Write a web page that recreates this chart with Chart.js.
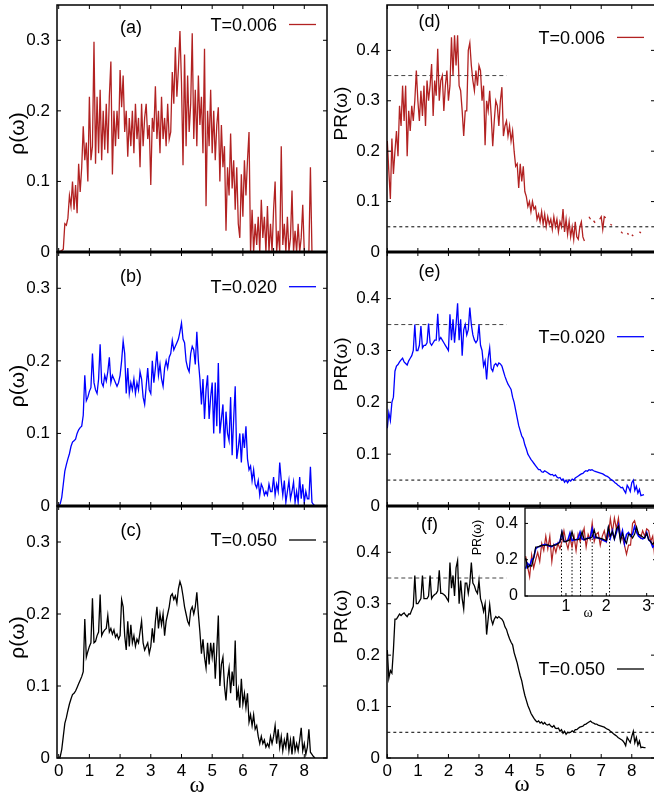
<!DOCTYPE html>
<html><head><meta charset="utf-8">
<script src="https://cdn.jsdelivr.net/npm/chart.js@4"></script>
<style>
html,body{margin:0;padding:0;overflow:hidden;background:#fff;width:654px;height:796px;position:relative;}
canvas{position:absolute;}
</style></head>
<body>
<canvas id="pa"></canvas><canvas id="pb"></canvas><canvas id="pc"></canvas>
<canvas id="pd"></canvas><canvas id="pe"></canvas><canvas id="pf"></canvas>
<canvas id="pin"></canvas>
<script>
// ---------- data ----------
const omega = [
0,0.05,0.1,0.15,0.2,0.25,0.3,0.35,0.4,0.45,
0.5,0.55,0.6,0.65,0.7,0.75,0.8,0.85,0.9,0.95,
1,1.05,1.1,1.15,1.2,1.25,1.3,1.35,1.4,1.45,
1.5,1.55,1.6,1.65,1.7,1.75,1.8,1.85,1.9,1.95,
2,2.05,2.1,2.15,2.2,2.25,2.3,2.35,2.4,2.45,
2.5,2.55,2.6,2.65,2.7,2.75,2.8,2.85,2.9,2.95,
3,3.05,3.1,3.15,3.2,3.25,3.3,3.35,3.4,3.45,
3.5,3.55,3.6,3.65,3.7,3.75,3.8,3.85,3.9,3.95,
4,4.05,4.1,4.15,4.2,4.25,4.3,4.35,4.4,4.45,
4.5,4.55,4.6,4.65,4.7,4.75,4.8,4.85,4.9,4.95,
5,5.05,5.1,5.15,5.2,5.25,5.3,5.35,5.4,5.45,
5.5,5.55,5.6,5.65,5.7,5.75,5.8,5.85,5.9,5.95,
6,6.05,6.1,6.15,6.2,6.25,6.3,6.35,6.4,6.45,
6.5,6.55,6.6,6.65,6.7,6.75,6.8,6.85,6.9,6.95,
7,7.05,7.1,7.15,7.2,7.25,7.3,7.35,7.4,7.45,
7.5,7.55,7.6,7.65,7.7,7.75,7.8,7.85,7.9,7.95,
8,8.05,8.1,8.15,8.2,8.25,8.3,8.35,8.4,8.45];

const rhoT006 = [
0,0.001,0.002,0.004,0.04,0.038,0.048,0.08,0.065,0.1,
0.06,0.095,0.055,0.125,0.085,0.12,0.178,0.13,0.155,0.1,
0.22,0.13,0.15,0.298,0.125,0.22,0.14,0.23,0.13,0.2,
0.145,0.21,0.14,0.22,0.27,0.11,0.2,0.15,0.2,0.16,
0.258,0.205,0.25,0.17,0.2,0.135,0.19,0.15,0.2,0.14,
0.21,0.16,0.19,0.12,0.21,0.15,0.19,0.21,0.16,0.18,
0.095,0.19,0.17,0.235,0.16,0.2,0.14,0.22,0.16,0.19,
0.15,0.21,0.16,0.17,0.255,0.21,0.29,0.22,0.26,0.313,
0.24,0.123,0.28,0.15,0.25,0.17,0.21,0.31,0.16,0.23,
0.15,0.25,0.18,0.22,0.14,0.288,0.065,0.2,0.15,0.23,
0.14,0.2,0.13,0.18,0.205,0.1,0.18,0.12,0.15,0.03,
0.12,0.08,0.168,0.09,0.13,0.06,0.12,0.04,0.02,0.11,
0.05,0.13,0.08,0.13,0.17,0,0.06,0,0.04,0.01,
0.05,0,0.074,0.02,0.05,0,0.065,0,0.04,0,
0.06,0.1,0,0.03,0,0.15,0.01,0.04,0,0.05,
0,0.02,0.087,0,0.03,0,0.04,0,0.02,0.067,
0,0,0,0,0.12,0];

const rhoT020 = [
0,0.003,0.012,0.03,0.048,0.057,0.065,0.072,0.082,0.088,
0.09,0.092,0.1,0.105,0.108,0.11,0.125,0.18,0.145,0.15,
0.158,0.163,0.21,0.17,0.16,0.155,0.175,0.223,0.17,0.165,
0.18,0.172,0.185,0.205,0.17,0.18,0.175,0.17,0.165,0.17,
0.18,0.2,0.227,0.21,0.155,0.19,0.155,0.17,0.16,0.175,
0.155,0.17,0.16,0.185,0.175,0.15,0.14,0.165,0.19,0.16,
0.155,0.2,0.17,0.19,0.213,0.18,0.195,0.175,0.165,0.19,
0.2,0.19,0.205,0.21,0.228,0.215,0.22,0.225,0.23,0.24,
0.252,0.23,0.225,0.2,0.19,0.185,0.21,0.22,0.215,0.195,
0.24,0.2,0.175,0.14,0.175,0.12,0.16,0.18,0.12,0.15,
0.17,0.1,0.17,0.11,0.197,0.1,0.12,0.14,0.08,0.13,
0.1,0.09,0.15,0.07,0.12,0.165,0.065,0.08,0.1,0.06,
0.1,0.08,0.11,0.065,0.05,0.055,0.035,0.05,0.03,0.025,
0.035,0.015,0.03,0.025,0.015,0.02,0.015,0.03,0.02,0.02,
0.04,0.015,0.03,0.02,0.06,0.035,0.015,0.035,0.005,0.02,
0.035,0.01,0.02,0.033,0.005,0.02,0.005,0.04,0.01,0.03,
0.005,0.02,0.01,0.01,0.054,0.005,0.002,0];

const rhoT050 = [
0,0.002,0.012,0.03,0.048,0.056,0.066,0.075,0.082,0.088,
0.09,0.093,0.098,0.103,0.108,0.113,0.12,0.193,0.14,0.148,
0.155,0.16,0.222,0.16,0.162,0.17,0.175,0.227,0.17,0.175,
0.178,0.18,0.198,0.175,0.18,0.172,0.178,0.168,0.172,0.165,
0.17,0.22,0.21,0.17,0.15,0.19,0.155,0.185,0.16,0.17,
0.155,0.165,0.16,0.175,0.19,0.16,0.15,0.155,0.16,0.145,
0.155,0.18,0.16,0.19,0.21,0.18,0.2,0.185,0.2,0.17,
0.19,0.2,0.21,0.225,0.228,0.22,0.225,0.215,0.235,0.245,
0.238,0.225,0.21,0.2,0.19,0.185,0.205,0.21,0.2,0.21,
0.23,0.2,0.175,0.145,0.165,0.14,0.125,0.16,0.13,0.16,
0.14,0.16,0.11,0.15,0.198,0.1,0.13,0.14,0.1,0.08,
0.11,0.125,0.09,0.12,0.1,0.163,0.08,0.095,0.07,0.11,
0.075,0.09,0.07,0.09,0.05,0.06,0.045,0.06,0.04,0.045,
0.03,0.02,0.03,0.02,0.025,0.015,0.02,0.015,0.03,0.02,
0.03,0.045,0.02,0.04,0.015,0.03,0.01,0.025,0.015,0.035,
0.01,0.025,0.005,0.03,0.01,0.02,0.01,0.025,0.042,0.01,
0.02,0.005,0.015,0.04,0.008,0.005,0.002,0];

const prT006 = [
0.22,0.16,0.105,0.225,0.155,0.2,0.24,0.19,0.29,0.25,
0.33,0.26,0.33,0.19,0.28,0.24,0.29,0.26,0.3,0.36,
0.3,0.26,0.32,0.27,0.33,0.25,0.34,0.3,0.33,0.373,
0.27,0.34,0.31,0.403,0.3,0.34,0.35,0.28,0.33,0.36,
0.3,0.33,0.426,0.35,0.43,0.37,0.43,0.33,0.32,0.28,
0.23,0.28,0.28,0.4,0.415,0.37,0.34,0.32,0.36,0.33,
0.37,0.36,0.3,0.33,0.212,0.3,0.28,0.32,0.27,0.21,
0.26,0.3,0.29,0.25,0.3,0.327,0.23,0.25,0.26,0.23,
0.25,0.22,0.24,0.2,0.17,0.175,0.127,0.175,0.14,0.17,
0.12,0.11,0.09,0.1,0.08,0.1,0.085,0.09,0.065,0.075,
0.06,0.08,0.055,0.075,0.05,0.07,0.055,0.065,0.045,0.07,
0.05,0.065,0.04,0.06,0.05,0.085,0.04,0.065,0.035,0.06,
0.03,0.05,0.025,0.06,0.03,0.025,0.05,0.06,0.03,0.022,
null,null,0.07,0.065,null,0.062,0.058,null,null,0.065,
0.07,0.045,0.07,0.068,null,null,0.055,0.053,null,null,
null,null,null,0.04,0.037,null,null,0.037,0.035,null,
0.034,0.032,null,null,null,0.04,0.038];

const prT020 = [
0.15,0.18,0.165,0.2,0.21,0.26,0.27,0.273,0.278,0.282,
0.285,0.278,0.275,0.272,0.28,0.285,0.29,0.3,0.35,0.3,
0.3,0.31,0.347,0.305,0.31,0.31,0.315,0.352,0.315,0.31,
0.315,0.32,0.32,0.371,0.32,0.325,0.32,0.315,0.31,0.305,
0.3,0.37,0.32,0.36,0.315,0.35,0.391,0.32,0.36,0.29,
0.34,0.35,0.33,0.34,0.383,0.35,0.33,0.32,0.315,0.32,
0.35,0.31,0.3,0.27,0.28,0.244,0.285,0.305,0.265,0.26,
0.272,0.275,0.27,0.276,0.274,0.27,0.26,0.25,0.242,0.235,
0.23,0.225,0.21,0.2,0.185,0.17,0.155,0.145,0.135,0.13,
0.118,0.11,0.1,0.095,0.09,0.086,0.082,0.078,0.074,0.07,
0.07,0.066,0.065,0.068,0.066,0.064,0.062,0.06,0.061,0.058,
0.06,0.056,0.054,0.055,0.05,0.052,0.046,0.05,0.045,0.05,
0.048,0.052,0.05,0.054,0.056,0.058,0.06,0.062,0.063,0.066,
0.068,0.067,0.07,0.069,0.07,0.068,0.067,0.066,0.065,0.064,
0.063,0.062,0.06,0.058,0.057,0.055,0.052,0.05,0.048,0.045,
0.043,0.04,0.038,0.035,0.036,0.03,0.025,0.04,0.035,0.028,
0.045,0.05,0.03,0.038,0.025,0.032,0.02,0.021,0.022];

const prT050 = [
0.21,0.155,0.17,0.165,0.21,0.27,0.27,0.275,0.28,0.277,
0.28,0.282,0.278,0.275,0.28,0.28,0.288,0.295,0.355,0.3,
0.3,0.305,0.31,0.355,0.31,0.31,0.31,0.315,0.355,0.31,
0.315,0.318,0.32,0.325,0.365,0.32,0.32,0.318,0.315,0.31,
0.305,0.38,0.33,0.355,0.315,0.37,0.384,0.3,0.345,0.31,
0.29,0.34,0.34,0.32,0.34,0.38,0.34,0.335,0.325,0.32,
0.345,0.31,0.3,0.285,0.3,0.24,0.27,0.298,0.27,0.26,
0.27,0.275,0.272,0.275,0.272,0.27,0.265,0.255,0.25,0.24,
0.232,0.225,0.22,0.205,0.195,0.185,0.172,0.16,0.15,0.135,
0.122,0.112,0.102,0.095,0.087,0.082,0.077,0.073,0.07,0.072,
0.068,0.07,0.066,0.069,0.065,0.064,0.066,0.062,0.06,0.063,
0.058,0.057,0.058,0.052,0.055,0.048,0.052,0.046,0.05,0.049,
0.05,0.053,0.051,0.055,0.055,0.058,0.06,0.061,0.062,0.065,
0.066,0.068,0.07,0.072,0.069,0.068,0.066,0.066,0.064,0.063,
0.062,0.061,0.06,0.058,0.056,0.055,0.052,0.05,0.047,0.045,
0.043,0.04,0.038,0.036,0.034,0.03,0.024,0.04,0.035,0.03,
0.042,0.052,0.03,0.04,0.025,0.033,0.02,0.021,0.02,0.02];

const seriesNames = ['T=0.006','T=0.020','T=0.050'];
const seriesColors = ['#b22222','#0000ff','#000000'];
const refLevels = [0.35, 0.05];
const refEnds = [3.9, 8.76];
const insetMarkX = [0.89, 1.15, 1.36, 1.65, 2.08];
const insetMarkTop = [0.35, 0.345, 0.345, 0.365, 0.37];
const xTicksMain = [0,1,2,3,4,5,6,7,8];
const yTicksRho = [0,0.1,0.2,0.3];
const yTicksPR = [0,0.1,0.2,0.3,0.4];
const xTicksInset = [1,2,3];
const yTicksInset = [0,0.2,0.4];

// ---------- drawing ----------
const FONT = "'Liberation Sans', Arial, sans-serif";
const SERIF = "'Liberation Serif', 'Times New Roman', serif";
Chart.defaults.font.family = FONT;
Chart.defaults.color = '#000';
const PAD = 24;
const decorCfg = {};

const decor = {
  id: 'decor',
  beforeDatasetsDraw(chart) {
    const o = decorCfg[chart.canvas.id]; if (!o || !o.bg) return;
    const a = chart.chartArea, ctx = chart.ctx;
    ctx.save(); ctx.fillStyle = '#fff'; ctx.fillRect(a.left, a.top, a.right - a.left, a.bottom - a.top); ctx.restore();
  },
  afterDraw(chart) {
    const o = decorCfg[chart.canvas.id]; if (!o) return;
    const ctx = chart.ctx, a = chart.chartArea, sx = chart.scales.x, sy = chart.scales.y;
    ctx.save();
    ctx.strokeStyle = '#000'; ctx.fillStyle = '#000'; ctx.lineWidth = 1;
    const seg = (x1, y1, x2, y2) => { ctx.beginPath(); ctx.moveTo(x1, y1); ctx.lineTo(x2, y2); ctx.stroke(); };
    o.yTicks.forEach(v => { const p = sy.getPixelForValue(v); seg(a.left, p, a.left + o.tick, p); seg(a.right - o.tick, p, a.right, p); });
    o.xTicks.forEach(v => { const p = sx.getPixelForValue(v); seg(p, a.bottom, p, a.bottom - o.tick); seg(p, a.top, p, a.top + o.tick); });
    ctx.lineWidth = o.frame;
    ctx.strokeRect(a.left, a.top, a.right - a.left, a.bottom - a.top);
    if (o.bottom) { ctx.lineWidth = o.bottom; seg(a.left, a.bottom, a.right, a.bottom); }
    ctx.textBaseline = 'alphabetic';
    if (o.tag) {
      ctx.font = o.tagSize + 'px ' + FONT; ctx.textAlign = 'center';
      ctx.fillText(o.tag, a.left + o.tagX, a.top + o.tagY + 0.26 * o.tagSize);
    }
    if (o.legend) {
      ctx.font = o.legSize + 'px ' + FONT; ctx.textAlign = 'right';
      ctx.fillText(o.legend, a.left + o.legX, a.top + o.legY + 0.36 * o.legSize);
      ctx.strokeStyle = o.legColor; ctx.lineWidth = 1.3;
      seg(a.left + o.legX + 12, a.top + o.legY, a.left + o.legX + 39, a.top + o.legY);
      ctx.strokeStyle = '#000';
    }
    if (o.ylabel) {
      ctx.save();
      ctx.translate(a.left + o.ylabX, (a.top + a.bottom) / 2 + o.ylabY);
      ctx.rotate(-Math.PI / 2);
      ctx.font = o.ylabSize + 'px ' + FONT; ctx.textAlign = 'center';
      ctx.fillText(o.ylabel, 0, 0.26 * o.ylabSize);
      ctx.restore();
    }
    if (o.xlabel) {
      ctx.font = o.xlabSize + 'px ' + SERIF; ctx.textAlign = 'center';
      ctx.fillText(o.xlabel, (a.left + a.right) / 2 + o.xlabDx, a.bottom + o.xlabY + 0.23 * o.xlabSize);
    }
    ctx.restore();
  }
};

function curve(arr, color, width) {
  return { data: arr.map((v, i) => ({ x: omega[i], y: v })), borderColor: color, borderWidth: width,
           pointRadius: 0, tension: 0, spanGaps: false, fill: false };
}
function refLine(k, color, dash) {
  return { data: [{ x: 0, y: refLevels[k] }, { x: refEnds[k], y: refLevels[k] }], borderColor: color,
           borderWidth: 1, borderDash: dash, pointRadius: 0, fill: false };
}

function panel(id, g, datasets, deco) {
  const c = document.getElementById(id);
  const left = Math.floor(g.cl - g.yw);
  const yw = g.cl - left;
  const top = g.ct - PAD;
  const W = Math.ceil(yw + g.cw + PAD);
  const H = Math.ceil(PAD + g.ch + g.xh + PAD);
  c.width = W; c.height = H;
  c.style.left = left + 'px'; c.style.top = top + 'px';
  c.style.width = W + 'px'; c.style.height = H + 'px';
  decorCfg[id] = deco;
  new Chart(c, {
    type: 'line',
    data: { datasets },
    options: {
      responsive: false, animation: false, devicePixelRatio: 1,
      layout: { padding: { left: 0, top: PAD, right: W - yw - g.cw, bottom: H - PAD - g.ch - g.xh } },
      plugins: { legend: { display: false }, tooltip: { enabled: false } },
      scales: {
        x: { type: 'linear', min: g.xmin, max: g.xmax, display: g.showX,
             afterBuildTicks: s => { s.ticks = g.xTicks.map(v => ({ value: v })); },
             afterFit: s => { s.height = g.xh; },
             grid: { display: false, drawTicks: false }, border: { display: false },
             ticks: { font: { size: g.fs }, padding: g.xpad, maxRotation: 0, autoSkip: false, color: '#000',
                      callback: v => String(v) } },
        y: { type: 'linear', min: 0, max: g.ymax,
             afterBuildTicks: s => { s.ticks = g.yTicks.map(v => ({ value: v })); },
             afterFit: s => { s.width = yw; },
             grid: { display: false, drawTicks: false }, border: { display: false },
             ticks: { font: { size: g.fs }, padding: g.ypad, autoSkip: false, color: '#000',
                      callback: v => (v === 0 ? '0' : v.toFixed(1)) } }
      }
    },
    plugins: [decor]
  });
}

const rows = [{ ct: 5, ch: 247 }, { ct: 252, ch: 254 }, { ct: 506, ch: 252 }];
const rhoData = [rhoT006, rhoT020, rhoT050];
const prData = [prT006, prT020, prT050];
const tagsL = ['(a)', '(b)', '(c)'], tagsR = ['(d)', '(e)', '(f)'];
const tagYL = [23.3, 25.5, 25.7], tagYR = [17, 20.5, 19];
const legYL = [19.5, 34.7, 34], legYR = [32.4, 84.7, 163];
const ylabYL = [5, 7, 5.5], ylabYR = [-15, -14.7, -15.3];

for (let r = 0; r < 3; r++) {
  const last = r === 2;
  // left column: density of states
  panel(['pa', 'pb', 'pc'][r],
    { cl: 57, cw: 270, ct: rows[r].ct, ch: rows[r].ch, yw: 57, xh: last ? 38 : 0, showX: last,
      xmin: -0.055, xmax: 8.74, ymax: 0.35, xTicks: xTicksMain, yTicks: yTicksRho, fs: 17, xpad: 3, ypad: 7 },
    [curve(rhoData[r], seriesColors[r], 1.3)],
    { tick: 4, frame: 1.5, bottom: last ? 0 : 3, xTicks: xTicksMain, yTicks: yTicksRho,
      tag: tagsL[r], tagSize: 18, tagX: 74, tagY: tagYL[r],
      legend: seriesNames[r], legSize: 18, legX: 220, legY: legYL[r], legColor: seriesColors[r],
      ylabel: 'ρ(ω)', ylabSize: 21, ylabX: -38, ylabY: ylabYL[r],
      xlabel: last ? 'ω' : null, xlabSize: 23, xlabY: 29, xlabDx: 5 });
  // right column: participation ratio
  panel(['pd', 'pe', 'pf'][r],
    { cl: 387, cw: 268, ct: rows[r].ct, ch: rows[r].ch, yw: 57, xh: last ? 38 : 0, showX: last,
      xmin: -0.01, xmax: 8.76, ymax: 0.49, xTicks: xTicksMain, yTicks: yTicksPR, fs: 17, xpad: 3, ypad: 7 },
    [curve(prData[r], seriesColors[r], 1.3), refLine(0, '#444', [4, 3]), refLine(1, '#000', [3, 3])],
    { tick: 4, frame: 1.5, bottom: last ? 0 : 3, xTicks: xTicksMain, yTicks: yTicksPR,
      tag: tagsR[r], tagSize: 18, tagX: 42.5, tagY: tagYR[r],
      legend: seriesNames[r], legSize: 18, legX: 218, legY: legYR[r], legColor: seriesColors[r],
      ylabel: 'PR(ω)', ylabSize: 19, ylabX: -44.7, ylabY: ylabYR[r],
      xlabel: last ? 'ω' : null, xlabSize: 23, xlabY: 28, xlabDx: 1 });
}

// inset
const insetSets = [
  curve(prT050, seriesColors[2], 1.2),
  curve(prT020, seriesColors[1], 1.6),
  curve(prT006, seriesColors[0], 1.2)
];
insetMarkX.forEach((x, i) => insetSets.push({
  data: [{ x: x, y: 0 }, { x: x, y: insetMarkTop[i] }], borderColor: '#000', borderWidth: 1,
  borderDash: [1.5, 2], pointRadius: 0, fill: false }));
panel('pin',
  { cl: 525, cw: 131, ct: 508, ch: 88, yw: 60, xh: 22, showX: true,
    xmin: -0.015, xmax: 3.231, ymax: 0.485, xTicks: xTicksInset, yTicks: yTicksInset, fs: 16, xpad: 1, ypad: 7 },
  insetSets,
  { bg: true, tick: 3, frame: 1.3, bottom: 0, xTicks: xTicksInset, yTicks: yTicksInset,
    ylabel: 'PR(ω)', ylabSize: 12.5, ylabX: -47.5, ylabY: -14.5,
    xlabel: 'ω', xlabSize: 14, xlabY: 18, xlabDx: -2.5 });
</script>
</body></html>
